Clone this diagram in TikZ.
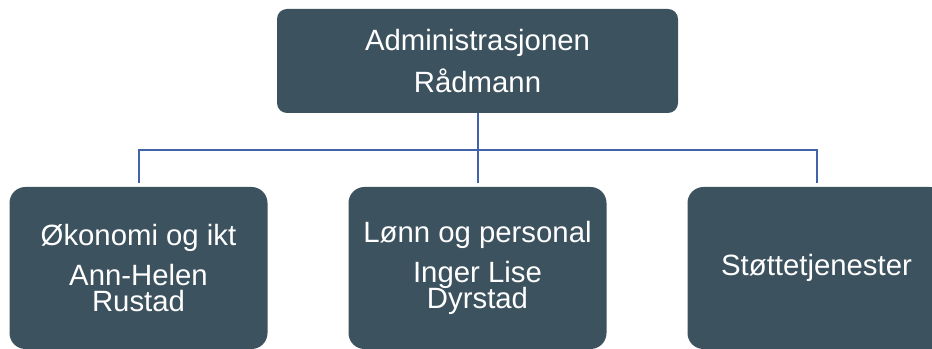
\documentclass[tikz,border=0pt]{standalone}
\usepackage{fontspec}
\setmainfont{Liberation Sans}
\usepackage{xcolor}

\definecolor{boksfarge}{RGB}{60,82,94}
\definecolor{linjefarge}{RGB}{66,98,170}

\begin{document}
\begin{tikzpicture}[auto]

% Stiler for organisasjonskartet
\tikzstyle{ledelse} = [rectangle, rounded corners=7.5pt, minimum width=300.75pt, minimum height=78pt, inner sep=0pt, text centered, align=center, fill=boksfarge, text=white, font={\fontsize{22}{20}\selectfont\lineskiplimit=-50pt}]
\tikzstyle{enhet} = [rectangle, rounded corners=12pt, minimum width=193.5pt, minimum height=121.5pt, inner sep=0pt, text centered, align=center, fill=boksfarge, text=white, font={\fontsize{22}{20}\selectfont\lineskiplimit=-50pt}]
\tikzstyle{linje} = [line width=1.5pt, draw=linjefarge, shorten >=2.5pt]

\useasboundingbox (0,0) rectangle (699pt,261.75pt);

% Bokser
\node (admin) [ledelse] at (358.125pt,216pt) {Administrasjonen\\[11pt]Rådmann};
\node (lonn) [enhet, node distance=155.25pt, below of=admin] {Lønn og personal\\[10pt]Inger Lise\\Dyrstad};
\node (okonomi) [enhet, node distance=254.25pt, left of=lonn] {Økonomi og ikt\\[10pt]Ann-Helen\\Rustad};
\node (stotte) [enhet, node distance=254.25pt, right of=lonn] {Støttetjenester};

% Linjer
\coordinate (skinne) at ([yshift=-27.75pt]admin.south);
\draw [linje] (admin.south) |- (skinne -| okonomi.north) -- (okonomi.north);
\draw [linje] (admin.south) -- (lonn.north);
\draw [linje] (admin.south) |- (skinne -| stotte.north) -- (stotte.north);
\end{tikzpicture}
\end{document}
